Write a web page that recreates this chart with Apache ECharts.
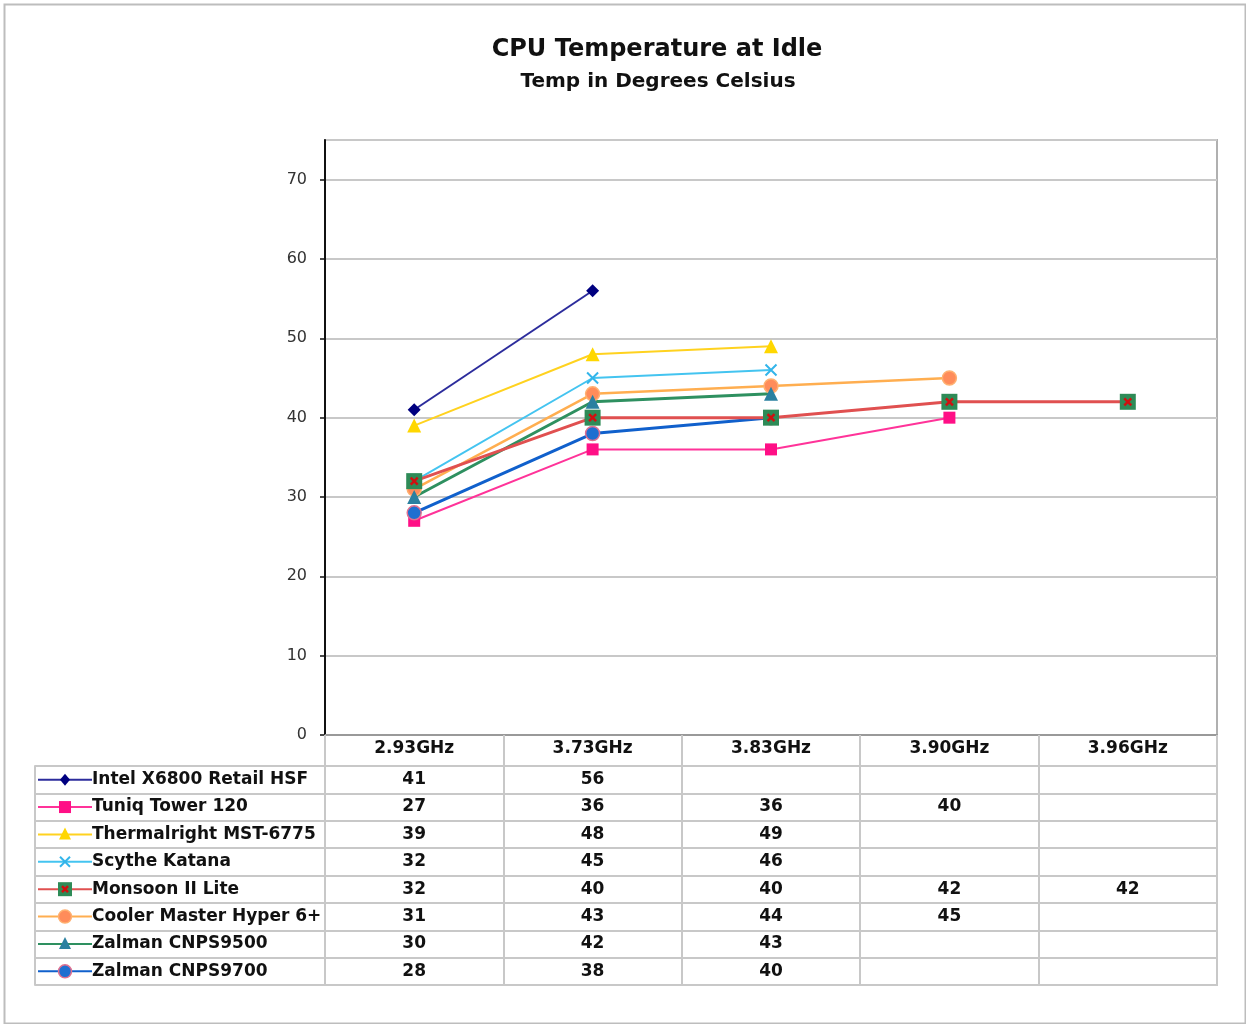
<!DOCTYPE html>
<html>
<head>
<meta charset="utf-8">
<title>CPU Temperature at Idle</title>
<script src="https://cdn.jsdelivr.net/npm/echarts@6/dist/echarts.min.js"></script>
<style>
  html, body { margin: 0; padding: 0; background: #fff; }
  #main { width: 1246px; height: 1024px; }
</style>
</head>
<body>
<div id="main"></div>
<script>
// clock speeds (x categories / table header)
const speeds = ['2.93GHz', '3.73GHz', '3.83GHz', '3.90GHz', '3.96GHz'];
const coolers = [
  'Intel X6800 Retail HSF',
  'Tuniq Tower 120',
  'Thermalright MST-6775',
  'Scythe Katana',
  'Monsoon II Lite',
  'Cooler Master Hyper 6+',
  'Zalman CNPS9500',
  'Zalman CNPS9700'
];
// idle temps, degrees C (null = not tested at that speed)
const intelX6800 = [41, 56, null, null, null];
const tuniqTower = [27, 36, 36, 40, null];
const thermalright = [39, 48, 49, null, null];
const scytheKatana = [32, 45, 46, null, null];
const monsoonLite = [32, 40, 40, 42, 42];
const coolerMaster = [31, 43, 44, 45, null];
const zalman9500 = [30, 42, 43, null, null];
const zalman9700 = [28, 38, 40, null, null];
const temps = [intelX6800, tuniqTower, thermalright, scytheKatana,
  monsoonLite, coolerMaster, zalman9500, zalman9700];

const yMin = 0, yMax = 75, yStep = 10;

// look of each cooler: line colour, marker kind, marker colours
const looks = [
  { line: '#2c2c9c', width: 2, kind: 'diamond', fill: '#000080' },
  { line: '#ff3399', width: 2, kind: 'rect', fill: '#ff0f86' },
  { line: '#ffd21f', width: 2, kind: 'triangle', fill: '#ffd700' },
  { line: '#44c4f0', width: 2, kind: 'cross', fill: '#33b5ea' },
  { line: '#e05050', width: 3, kind: 'monsoon', fill: '#2e8b57', mark: '#d01010' },
  { line: '#ffae50', width: 2.5, kind: 'circle', fill: '#ff8c5a', edge: '#ffb070' },
  { line: '#2e9060', width: 3, kind: 'triangle', fill: '#2a80a0' },
  { line: '#1060cc', width: 3, kind: 'circle', fill: '#1f6fd0', edge: '#e07090' }
];

const crossPath = 'path://M0,0L10,10M10,0L0,10';
const cellFont = 'DejaVu Sans';
const rule = '#c8c8c8';
const ink = '#111';

function symbolOf(lk) {
  if (lk.kind === 'cross') return crossPath;
  if (lk.kind === 'monsoon') return 'rect';
  return lk.kind;
}
function sizeOf(lk) {
  return { diamond: 13, rect: 12, triangle: 14, cross: 11, monsoon: 16, circle: 14 }[lk.kind];
}

const lineSeries = temps.map((vals, i) => {
  const lk = looks[i];
  const isCross = lk.kind === 'cross';
  return {
    name: coolers[i],
    type: 'line',
    xAxisIndex: 0,
    yAxisIndex: 0,
    data: vals,
    connectNulls: false,
    symbol: symbolOf(lk),
    symbolSize: sizeOf(lk),
    showAllSymbol: true,
    lineStyle: { color: lk.line, width: lk.width },
    itemStyle: isCross
      ? { color: 'rgba(0,0,0,0)', borderColor: lk.fill, borderWidth: 2 }
      : { color: lk.fill, borderColor: lk.edge || lk.fill, borderWidth: lk.edge ? 1.5 : 0 },
    z: 3 + (i === 4 ? 4 : 0)
  };
});

// red x drawn on top of Monsoon's green squares
const monsoonMarks = {
  type: 'scatter',
  xAxisIndex: 0,
  yAxisIndex: 0,
  data: monsoonLite,
  symbol: crossPath,
  symbolSize: 7,
  itemStyle: { color: 'rgba(0,0,0,0)', borderColor: looks[4].mark, borderWidth: 2.5, opacity: 1 },
  z: 8
};

// numbers of the data table
const cellData = [];
temps.forEach((vals, r) => {
  vals.forEach((v, c) => { if (v !== null) cellData.push([c, r, v]); });
});

function keyMarker(lk, cx, cy) {
  const fillStyle = { fill: lk.fill, stroke: lk.edge || lk.fill, lineWidth: lk.edge ? 1.5 : 0 };
  switch (lk.kind) {
    case 'diamond':
      return [{ type: 'polygon', shape: { points: [[cx, cy - 6], [cx + 5, cy], [cx, cy + 6], [cx - 5, cy]] }, style: fillStyle }];
    case 'rect':
      return [{ type: 'rect', shape: { x: cx - 6, y: cy - 6, width: 12, height: 12 }, style: fillStyle }];
    case 'triangle':
      return [{ type: 'polygon', shape: { points: [[cx, cy - 7], [cx + 6, cy + 5], [cx - 6, cy + 5]] }, style: fillStyle }];
    case 'circle':
      return [{ type: 'circle', shape: { cx: cx, cy: cy, r: 6.5 }, style: fillStyle }];
    case 'cross':
      return [
        { type: 'line', shape: { x1: cx - 5, y1: cy - 5, x2: cx + 5, y2: cy + 5 }, style: { stroke: lk.fill, lineWidth: 2 } },
        { type: 'line', shape: { x1: cx + 5, y1: cy - 5, x2: cx - 5, y2: cy + 5 }, style: { stroke: lk.fill, lineWidth: 2 } }
      ];
    case 'monsoon':
      return [
        { type: 'rect', shape: { x: cx - 7, y: cy - 7, width: 14, height: 14 }, style: { fill: lk.fill } },
        { type: 'line', shape: { x1: cx - 3, y1: cy - 3, x2: cx + 3, y2: cy + 3 }, style: { stroke: lk.mark, lineWidth: 2.5 } },
        { type: 'line', shape: { x1: cx + 3, y1: cy - 3, x2: cx - 3, y2: cy + 3 }, style: { stroke: lk.mark, lineWidth: 2.5 } }
      ];
  }
  return [];
}

// legend keys in the first table column
const legendKeys = {
  type: 'custom',
  xAxisIndex: 1,
  yAxisIndex: 1,
  data: coolers.map((n, i) => [0, i]),
  renderItem: function (params, api) {
    const i = api.value(1);
    const lk = looks[i];
    const cy = api.coord([0, i])[1];
    const x0 = params.coordSys.x - 287;
    const children = [{
      type: 'line',
      shape: { x1: x0, y1: cy, x2: x0 + 54, y2: cy },
      style: { stroke: lk.line, lineWidth: 2 }
    }].concat(keyMarker(lk, x0 + 27, cy));
    return { type: 'group', children: children };
  },
  z: 5
};

// table values drawn as text in their cells
const tableNumbers = {
  type: 'custom',
  xAxisIndex: 1,
  yAxisIndex: 1,
  data: cellData,
  renderItem: function (params, api) {
    const p = api.coord([api.value(0), api.value(1)]);
    return {
      type: 'text',
      style: {
        text: String(api.value(2)),
        x: p[0],
        y: p[1],
        align: 'center',
        verticalAlign: 'middle',
        font: 'bold 17px "DejaVu Sans"',
        fill: ink
      }
    };
  },
  z: 5
};

const chart = echarts.init(document.getElementById('main'), null, { renderer: 'canvas' });
chart.setOption({
  animation: false,
  backgroundColor: '#fff',
  graphic: [
    { type: 'rect', left: 2, top: 2, shape: { width: 1241, height: 1019 }, style: { fill: 'none', stroke: '#bdbdbd', lineWidth: 2 }, silent: true },
    { type: 'text', x: 657, y: 50, style: { text: 'CPU Temperature at Idle', align: 'center', verticalAlign: 'middle', font: 'bold 24px "DejaVu Sans"', fill: ink } },
    { type: 'text', x: 658, y: 82, style: { text: 'Temp in Degrees Celsius', align: 'center', verticalAlign: 'middle', font: 'bold 20px "DejaVu Sans"', fill: ink } }
  ],
  grid: [
    { left: 325, right: 29, top: 140, bottom: 289, show: true, borderColor: '#b0b0b0', borderWidth: 2, backgroundColor: '#fff' },
    { left: 325, right: 29, top: 766, bottom: 39, show: true, borderColor: rule, borderWidth: 2 }
  ],
  xAxis: [
    {
      type: 'category',
      gridIndex: 0,
      data: speeds,
      boundaryGap: true,
      axisLine: { lineStyle: { color: '#999', width: 2 } },
      axisTick: { show: true, interval: 0, length: 31, lineStyle: { color: rule, width: 2 } },
      axisLabel: { interval: 0, margin: 5, fontFamily: cellFont, fontWeight: 'bold', fontSize: 17, color: ink },
      splitLine: { show: false }
    },
    {
      type: 'category',
      gridIndex: 1,
      data: speeds,
      boundaryGap: true,
      axisLine: { show: false },
      axisTick: { show: false },
      axisLabel: { show: false },
      splitLine: { show: true, interval: 0, lineStyle: { color: rule, width: 2 } }
    }
  ],
  yAxis: [
    {
      type: 'value',
      gridIndex: 0,
      min: yMin,
      max: yMax,
      interval: yStep,
      axisLine: { show: true, lineStyle: { color: '#111', width: 2 } },
      axisTick: { show: true, length: 5, lineStyle: { color: '#111', width: 1.5 } },
      axisLabel: { showMaxLabel: false, margin: 18, fontFamily: cellFont, fontSize: 16, color: '#333' },
      splitLine: { show: true, lineStyle: { color: rule, width: 2 } }
    },
    {
      type: 'category',
      gridIndex: 1,
      data: coolers,
      inverse: true,
      boundaryGap: true,
      axisLine: { show: true, lineStyle: { color: rule, width: 2 } },
      axisTick: { show: true, interval: 0, length: 290, lineStyle: { color: rule, width: 2 } },
      axisLabel: { interval: 0, align: 'left', margin: 233, fontFamily: cellFont, fontWeight: 'bold', fontSize: 17, color: ink },
      splitLine: { show: true, interval: 0, lineStyle: { color: rule, width: 2 } }
    },
    {
      type: 'category',
      gridIndex: 1,
      data: coolers,
      inverse: true,
      position: 'left',
      offset: 290,
      axisLine: { show: true, lineStyle: { color: rule, width: 2 } },
      axisTick: { show: false },
      axisLabel: { show: false },
      splitLine: { show: false }
    }
  ],
  series: lineSeries.concat([monsoonMarks, legendKeys, tableNumbers])
});
</script>
</body>
</html>
